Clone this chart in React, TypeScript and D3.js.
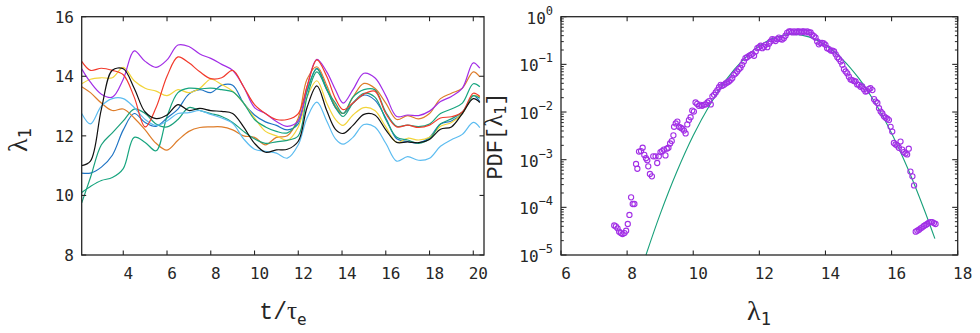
import React from 'react';
import * as d3 from 'd3';

// time grid (t / tau_e) shared by all runs
const tGrid = [2.1, 2.5, 3, 3.5, 4, 4.5, 5, 5.5, 6, 6.5, 7, 7.5, 8, 8.5, 9, 9.5, 10, 10.5, 11, 11.5,
  12, 12.4, 12.85, 13.3, 13.7, 14.05, 14.5, 15, 15.5, 16, 16.5, 17, 17.5, 18, 18.5, 19, 19.5, 20, 20.3];

const purpleRun = [14.25, 13.8, 13.4, 13.3, 13.9, 14.85, 14.5, 14.3, 14.55, 15.05,
  15.0, 14.75, 14.6, 14.4, 14.2, 13.65, 12.95, 12.75, 12.48, 12.32,
  12.5, 13.65, 14.57, 14.15, 13.55, 13.1, 13.55, 14.1, 13.95, 13.35,
  12.65, 12.7, 12.68, 12.83, 13.15, 13.32, 13.6, 14.45, 14.27];
const redRun = [14.5, 14.2, 14.27, 14.2, 14.05, 13.3, 12.3, 12.95, 14.0, 14.65,
  14.45, 14.15, 13.92, 13.95, 14.2, 13.65, 13.05, 12.75, 12.55, 12.55,
  12.75, 13.65, 14.55, 14.0, 13.25, 12.88, 13.1, 13.4, 13.5, 12.75,
  12.3, 12.36, 12.28, 12.36, 12.6, 12.64, 12.8, 13.43, 13.32];
const orangeRun = [13.65, 13.45, 13.1, 12.85, 12.9, 12.6, 12.2, 11.75, 11.52, 11.85,
  12.15, 12.28, 12.3, 12.3, 12.2, 12.0, 11.95, 11.7, 11.95, 12.0,
  12.6, 13.9, 14.32, 13.7, 13.0, 12.75, 13.3, 13.76, 13.6, 13.1,
  12.55, 12.68, 12.57, 12.75, 13.25, 13.43, 13.6, 14.15, 13.98];
const yellowRun = [13.75, 13.9, 13.95, 13.95, 14.3, 13.85, 13.6, 13.5, 13.35, 13.55,
  13.45, 13.6, 13.9, 13.72, 13.5, 13.1, 12.6, 12.15, 12.0, 11.85,
  12.3, 13.3, 13.85, 13.1, 12.55, 12.35, 12.7, 12.95, 12.85, 12.3,
  11.78, 11.92, 11.86, 11.95, 12.32, 12.45, 12.75, 13.35, 13.3];
const greenRunA = [9.75, 10.6, 11.7, 12.1, 12.5, 12.9, 12.75, 12.4, 12.3, 12.55,
  12.95, 12.85, 12.75, 12.65, 12.45, 12.15, 11.9, 11.75, 11.8, 11.85,
  12.0, 13.3, 14.15, 13.55, 12.95, 12.65, 13.1, 13.43, 13.3, 12.55,
  11.95, 11.86, 11.75, 11.9, 12.4, 12.57, 12.8, 13.35, 13.26];
const greenRunB = [10.1, 10.3, 10.5, 10.6, 10.9, 11.95, 11.78, 11.5, 12.65, 13.45,
  13.6, 13.58, 13.6, 13.55, 13.48, 13.1, 12.55, 12.3, 12.15, 12.1,
  12.5, 13.5, 14.25, 13.55, 13.1, 12.75, 13.3, 13.55, 13.55, 12.8,
  12.32, 12.36, 12.31, 12.4, 12.75, 12.9, 13.1, 13.75, 13.65];
const blueRun = [10.75, 10.75, 10.95, 11.35, 12.2, 12.75, 12.45, 12.32, 12.6, 12.9,
  13.4, 13.55, 13.45, 13.7, 13.7, 13.1, 12.7, 12.47, 12.35, 12.2,
  12.4, 13.5, 14.27, 13.6, 12.95, 12.75, 13.1, 13.37, 13.2, 12.6,
  11.9, 11.81, 11.76, 11.95, 12.4, 12.5, 12.75, 13.35, 13.15];
const blackRun = [11.0, 11.15, 12.9, 14.2, 14.25, 13.6, 12.8, 12.58, 12.7, 13.05,
  12.85, 12.92, 12.85, 12.82, 12.75, 12.3, 11.75, 11.45, 11.53, 11.55,
  11.82, 12.95, 13.68, 12.85, 12.22, 12.08, 12.35, 12.72, 12.7, 12.2,
  11.78, 11.8, 11.77, 11.88, 12.22, 12.3, 12.75, 13.25, 13.12];
const lightBlueRun = [12.75, 12.4, 13.0, 13.25, 13.25, 12.95, 12.55, 12.35, 12.5, 12.75,
  12.78, 12.85, 12.72, 12.6, 12.42, 11.9, 11.55, 11.48, 11.42, 11.25,
  11.7, 12.6, 13.13, 12.5, 11.9, 11.72, 11.95, 12.38, 12.3, 11.75,
  11.15, 11.3, 11.18, 11.25, 11.65, 11.87, 12.05, 12.45, 12.28];

// PDF of lambda_1: [lambda, log10 PDF]
const pdfPoints: [number, number][] = [
  [7.61, -4.38], [7.66, -4.40], [7.71, -4.44], [7.76, -4.51], [7.81, -4.54], [7.86, -4.56],
  [7.92, -4.54], [7.97, -4.49], [8.02, -4.35], [8.07, -4.16], [8.12, -3.79], [8.17, -3.93],
  [8.22, -3.93], [8.27, -3.09], [8.31, -3.19], [8.36, -2.83], [8.42, -2.82], [8.47, -2.75],
  [8.52, -2.90], [8.57, -2.97], [8.61, -3.01], [8.64, -3.14], [8.69, -3.30], [8.75, -3.35],
  [8.79, -2.93], [8.86, -2.93], [8.91, -3.07], [8.96, -2.93], [9.01, -2.84], [9.06, -2.82],
  [9.11, -2.79], [9.16, -2.91], [9.20, -2.77], [9.25, -2.75], [9.30, -2.66], [9.35, -2.61],
  [9.40, -2.49], [9.42, -2.31], [9.47, -2.24], [9.52, -2.20], [9.57, -2.31], [9.62, -2.33],
  [9.67, -2.35], [9.72, -2.39], [9.77, -2.45], [9.82, -2.26], [9.87, -2.17], [9.92, -2.11],
  [9.97, -1.97], [10.02, -1.99], [10.07, -1.80], [10.12, -1.83], [10.17, -1.87], [10.22, -1.85],
  [10.27, -1.87], [10.32, -1.85], [10.37, -1.84], [10.43, -1.80], [10.48, -1.77], [10.53, -1.84],
  [10.58, -1.67], [10.63, -1.64], [10.68, -1.59], [10.73, -1.54], [10.78, -1.48], [10.83, -1.43],
  [10.88, -1.45], [10.93, -1.43], [10.98, -1.40], [11.03, -1.38], [11.08, -1.36], [11.13, -1.33],
  [11.18, -1.29], [11.23, -1.22], [11.28, -1.19], [11.33, -1.15], [11.38, -1.10], [11.43, -1.07],
  [11.48, -1.01], [11.53, -0.94], [11.58, -0.87], [11.63, -0.85], [11.69, -0.82], [11.74, -0.80],
  [11.79, -0.78], [11.84, -0.82], [11.89, -0.73], [11.94, -0.66], [11.99, -0.64], [12.04, -0.61],
  [12.09, -0.66], [12.14, -0.63], [12.19, -0.59], [12.24, -0.64], [12.29, -0.57], [12.34, -0.52],
  [12.39, -0.47], [12.44, -0.48], [12.49, -0.51], [12.54, -0.47], [12.59, -0.44], [12.64, -0.47],
  [12.69, -0.48], [12.74, -0.45], [12.79, -0.40], [12.84, -0.34], [12.90, -0.31], [12.95, -0.31],
  [13.00, -0.33], [13.05, -0.31], [13.10, -0.33], [13.15, -0.31], [13.20, -0.31], [13.25, -0.33],
  [13.30, -0.31], [13.35, -0.31], [13.40, -0.33], [13.45, -0.31], [13.50, -0.33], [13.55, -0.33],
  [13.60, -0.38], [13.65, -0.41], [13.70, -0.44], [13.75, -0.52], [13.80, -0.58], [13.85, -0.55],
  [13.90, -0.55], [13.95, -0.56], [14.00, -0.59], [14.05, -0.66], [14.10, -0.68], [14.16, -0.71],
  [14.21, -0.71], [14.26, -0.73], [14.31, -0.79], [14.36, -0.85], [14.41, -0.89], [14.46, -0.94],
  [14.51, -1.01], [14.56, -1.10], [14.61, -1.15], [14.66, -1.19], [14.71, -1.26], [14.76, -1.32],
  [14.81, -1.33], [14.86, -1.35], [14.91, -1.36], [14.96, -1.42], [15.01, -1.43], [15.06, -1.47],
  [15.11, -1.46], [15.16, -1.52], [15.21, -1.57], [15.26, -1.56], [15.31, -1.52], [15.36, -1.50],
  [15.42, -1.54], [15.47, -1.73], [15.52, -1.78], [15.57, -1.81], [15.62, -1.92], [15.67, -1.99],
  [15.72, -2.03], [15.77, -2.09], [15.82, -2.12], [15.87, -2.14], [15.92, -2.17], [15.97, -2.31],
  [16.02, -2.41], [16.07, -2.65], [16.12, -2.68], [16.17, -2.70], [16.22, -2.75], [16.27, -2.62],
  [16.32, -2.79], [16.37, -2.84], [16.42, -2.87], [16.47, -2.89], [16.52, -2.77], [16.57, -3.25],
  [16.63, -3.35], [16.68, -3.54], [16.73, -4.51], [16.78, -4.49], [16.83, -4.47], [16.88, -4.44],
  [16.93, -4.42], [16.98, -4.39], [17.03, -4.37], [17.08, -4.35], [17.13, -4.32], [17.18, -4.31],
  [17.23, -4.31], [17.28, -4.33], [17.33, -4.35],
];

// gaussian fit
const fitLambda = [8.57, 9, 9.5, 10, 10.5, 11, 11.5, 12, 12.5, 13, 13.5, 14, 14.5, 15, 15.5, 16, 16.5, 17, 17.31];
const fitPdf = [1.0e-5, 7.2e-5, 5.5e-4, 3.2e-3, 1.4e-2, 4.8e-2, 0.123, 0.244, 0.369, 0.427,
  0.377, 0.255, 0.131, 0.0519, 0.0156, 3.6e-3, 6.3e-4, 8.5e-5, 2.2e-5];

const leftXTicks = [4, 6, 8, 10, 12, 14, 16, 18, 20];
const leftYTicks = [8, 10, 12, 14, 16];
const rightXTicks = [6, 8, 10, 12, 14, 16, 18];
const rightYExps = [0, -1, -2, -3, -4, -5];

const runs = [
  { values: blueRun, color: '#1f74c4' },
  { values: orangeRun, color: '#de7d2a' },
  { values: yellowRun, color: '#f2d43a' },
  { values: greenRunA, color: '#1aa07c' },
  { values: greenRunB, color: '#17a57f' },
  { values: lightBlueRun, color: '#5cbcf0' },
  { values: purpleRun, color: '#a22ee6' },
  { values: redRun, color: '#f23a2c' },
  { values: blackRun, color: '#111111' },
];

const AX = '#262626';
const MONO = 'DejaVu Sans Mono';

export default function App() {
  const xL = d3.scaleLinear().domain([2.1, 20.49]).range([81.7, 484]);
  const yL = d3.scaleLinear().domain([8, 16]).range([255, 16.7]);
  const xR = d3.scaleLinear().domain([6, 18]).range([561, 957.7]);
  const yR = d3.scaleLog().domain([1e-5, 1]).range([255, 16.7]);

  const runLine = d3.line<number>()
    .x((_, i) => xL(tGrid[i]))
    .y(v => yL(v))
    .curve(d3.curveCatmullRom.alpha(0.5));

  const fitLine = d3.line<number>()
    .x((_, i) => xR(fitLambda[i]))
    .y(v => yR(v))
    .curve(d3.curveCatmullRom.alpha(0.5));

  const minorR: number[] = [];
  for (let e = -5; e < 0; e++) for (let m = 2; m <= 9; m++) minorR.push(m * Math.pow(10, e));

  const [l0, l1] = xL.range();
  const [r0, r1] = xR.range();
  const top = 16.7, bot = 255, tk = 4.5;

  return (
    <svg width={980} height={333} style={{ position: 'absolute', left: 0, top: 0, background: '#fff' }}>
      <defs>
        <clipPath id="clipL"><rect x={l0} y={top} width={l1 - l0} height={bot - top} /></clipPath>
      </defs>

      {/* left panel runs */}
      <g clipPath="url(#clipL)">
        {runs.map((r, i) => (
          <path key={i} d={runLine(r.values) || ''} fill="none" stroke={r.color} strokeWidth={1.2} />
        ))}
      </g>

      {/* left frame + ticks */}
      <rect x={l0} y={top} width={l1 - l0} height={bot - top} fill="none" stroke={AX} strokeWidth={1.3} />
      {leftXTicks.map(t => (
        <g key={'lx' + t}>
          <line x1={xL(t)} x2={xL(t)} y1={bot} y2={bot - tk} stroke={AX} strokeWidth={1.1} />
          <line x1={xL(t)} x2={xL(t)} y1={top} y2={top + tk} stroke={AX} strokeWidth={1.1} />
          <text x={xL(t) + 5} y={279} textAnchor="middle" fontFamily={MONO} fontSize={16} fill={AX}>{t}</text>
        </g>
      ))}
      {leftYTicks.map(v => (
        <g key={'ly' + v}>
          <line x1={l0} x2={l0 + tk} y1={yL(v)} y2={yL(v)} stroke={AX} strokeWidth={1.1} />
          <line x1={l1} x2={l1 - tk} y1={yL(v)} y2={yL(v)} stroke={AX} strokeWidth={1.1} />
          <text x={74} y={yL(v) + 6} textAnchor="end" fontFamily={MONO} fontSize={16} fill={AX}>{v}</text>
        </g>
      ))}
      <text transform="translate(27,140) rotate(-90)" fill={AX} textAnchor="middle">
        <tspan fontFamily="Liberation Serif" fontSize={28}>λ</tspan>
        <tspan fontFamily={MONO} fontSize={17} dy={4}>1</tspan>
      </text>
      <text x={283} y={319} textAnchor="middle" fill={AX}>
        <tspan fontFamily="Liberation Mono" fontSize={23}>t/</tspan>
        <tspan fontFamily="Liberation Serif" fontSize={25}>τ</tspan>
        <tspan fontFamily={MONO} fontSize={16} dy={6}>e</tspan>
      </text>

      {/* right panel: fit + scatter */}
      <path d={fitLine(fitPdf) || ''} fill="none" stroke="#18a07a" strokeWidth={1.1} />
      {pdfPoints.map((p, i) => (
        <circle key={i} cx={xR(p[0])} cy={yR(Math.pow(10, p[1]))} r={2.6}
          fill="none" stroke="#a22fe6" strokeWidth={1.1} />
      ))}

      <rect x={r0} y={top} width={r1 - r0} height={bot - top} fill="none" stroke={AX} strokeWidth={1.3} />
      {rightXTicks.map(t => (
        <g key={'rx' + t}>
          <line x1={xR(t)} x2={xR(t)} y1={bot} y2={bot - tk} stroke={AX} strokeWidth={1.1} />
          <line x1={xR(t)} x2={xR(t)} y1={top} y2={top + tk} stroke={AX} strokeWidth={1.1} />
          <text x={xR(t) + 5} y={279} textAnchor="middle" fontFamily={MONO} fontSize={16} fill={AX}>{t}</text>
        </g>
      ))}
      {rightYExps.map(e => {
        const y = yR(Math.pow(10, e));
        return (
          <g key={'ry' + e}>
            <line x1={r0} x2={r0 + 5.5} y1={y} y2={y} stroke={AX} strokeWidth={1.1} />
            <line x1={r1} x2={r1 - 5.5} y1={y} y2={y} stroke={AX} strokeWidth={1.1} />
            <text x={553} y={y + 7} textAnchor="end" fill={AX} fontFamily={MONO}>
              <tspan fontSize={16}>10</tspan>
              <tspan fontSize={12} dy={-9}>{e === 0 ? '0' : '\u2212' + Math.abs(e)}</tspan>
            </text>
          </g>
        );
      })}
      {minorR.map((v, i) => (
        <g key={'rm' + i}>
          <line x1={r0} x2={r0 + 2.8} y1={yR(v)} y2={yR(v)} stroke={AX} strokeWidth={1} />
          <line x1={r1} x2={r1 - 2.8} y1={yR(v)} y2={yR(v)} stroke={AX} strokeWidth={1} />
        </g>
      ))}
      <text x={759} y={320} textAnchor="middle" fill={AX}>
        <tspan fontFamily="Liberation Serif" fontSize={28}>λ</tspan>
        <tspan fontFamily={MONO} fontSize={17} dy={5}>1</tspan>
      </text>
      <text transform="translate(502,136) rotate(-90)" textAnchor="middle" fill={AX}>
        <tspan fontFamily="Liberation Mono" fontSize={22}>PDF[</tspan>
        <tspan fontFamily="Liberation Serif" fontSize={25}>λ</tspan>
        <tspan fontFamily={MONO} fontSize={15} dy={4}>1</tspan>
        <tspan fontFamily="Liberation Mono" fontSize={22} dy={-4}>]</tspan>
      </text>
    </svg>
  );
}
